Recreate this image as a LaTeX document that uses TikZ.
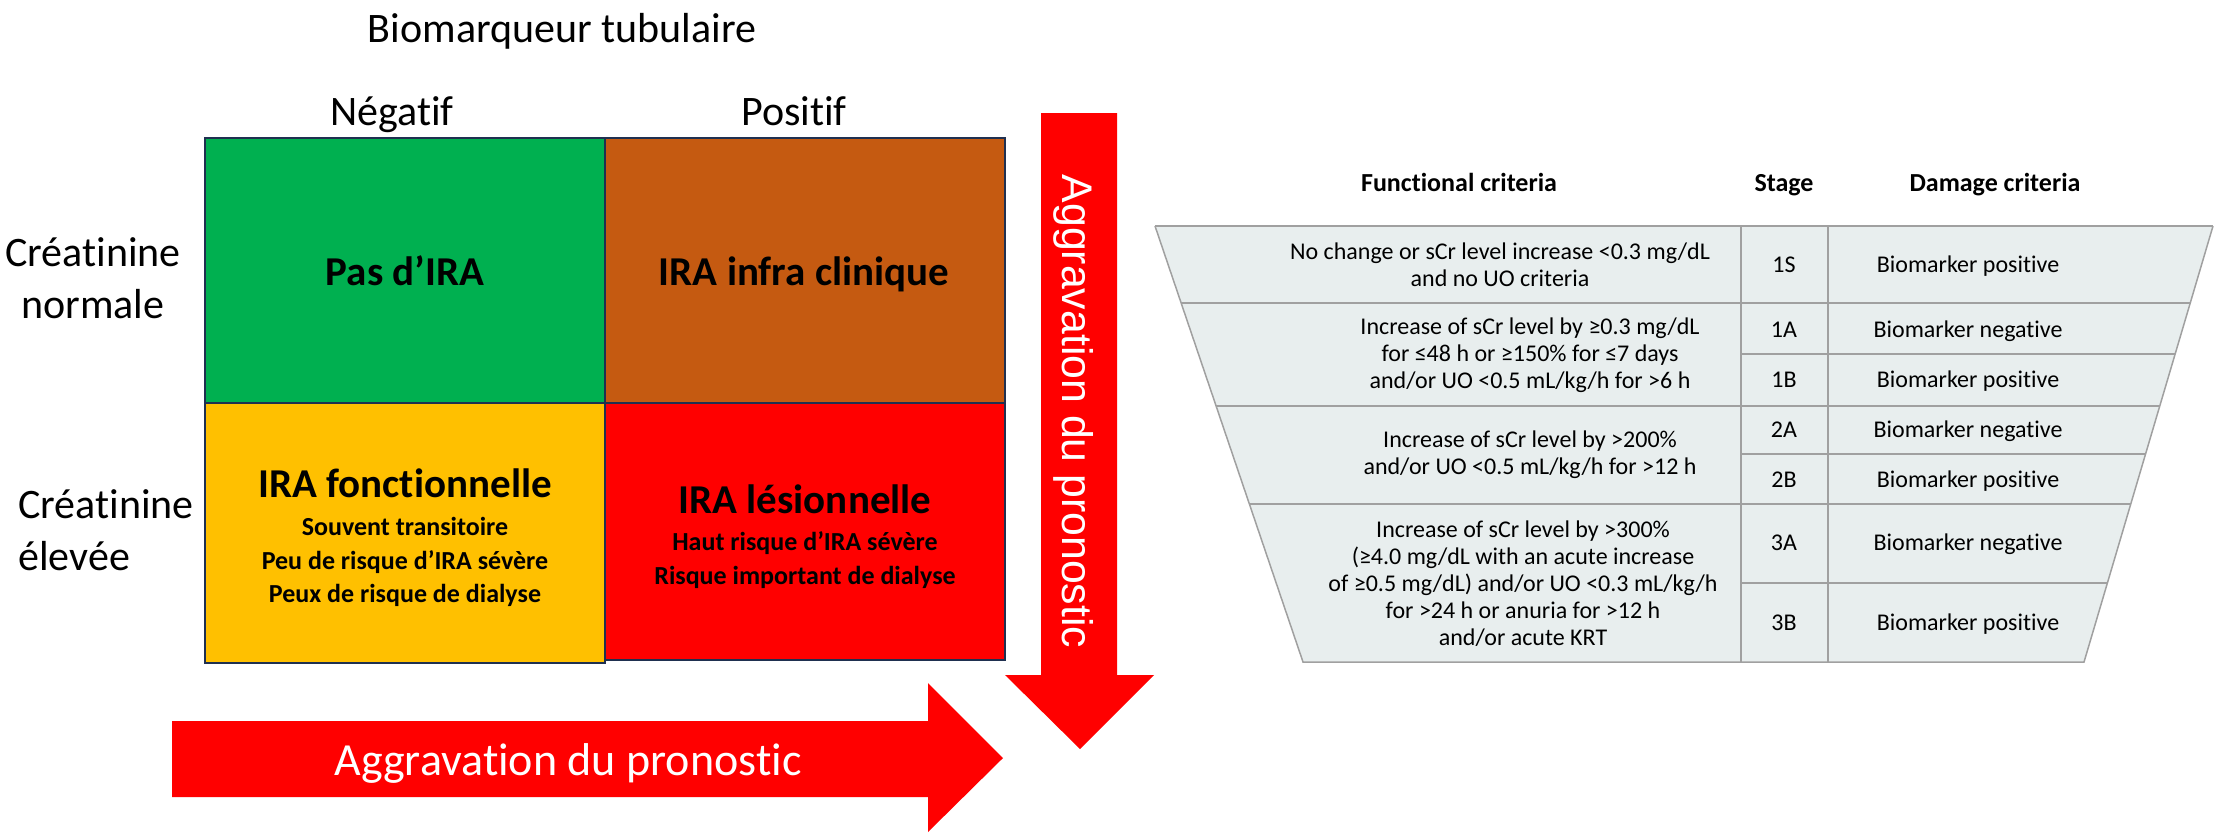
\documentclass[tikz,border=0pt]{standalone}
\usepackage{fontspec}
\setmainfont{Carlito}[Ligatures=NoCommon]
\newfontfamily\arrowfont{Liberation Sans}
\usetikzlibrary{positioning}
\definecolor{nogreen}{HTML}{00B050}
\definecolor{subbrown}{HTML}{C55A11}
\definecolor{foncyellow}{HTML}{FFC000}
\definecolor{lesred}{HTML}{FF0000}
\definecolor{gridnavy}{HTML}{1F3050}
\definecolor{funnelfill}{HTML}{E8EEEE}
\definecolor{funnelline}{HTML}{A0A0A0}

\begin{document}
\begin{tikzpicture}[x=0.5pt,y=-0.5pt]
\tikzstyle{every node}+=[inner sep=0pt]
\tikzstyle{headlabel}=[font=\fontsize{21}{26}\selectfont]
\tikzstyle{cellbox}=[draw=gridnavy, line width=1.25pt]
\tikzstyle{celltitle}=[font=\bfseries\fontsize{20.5}{25}\selectfont]
\tikzstyle{cellnote}=[font=\bfseries\fontsize{13}{16.75}\selectfont, align=center]
\tikzstyle{bigarrow}=[fill=lesred]
\tikzstyle{arrowtext}=[text=white]
\tikzstyle{funnel}=[draw=funnelline, line width=0.75pt]
\tikzstyle{tablehead}=[font=\bfseries\fontsize{13}{15}\selectfont]
\tikzstyle{tabletext}=[font=\fontsize{12}{13.5}\selectfont, align=center]
\useasboundingbox (0,0) rectangle (2216,832);
\node [headlabel, anchor=base] (biomarq) at (562,42) {Biomarqueur tubulaire};
\node [headlabel, anchor=base] (negatif) at (392,125) {Négatif};
\node [headlabel, anchor=base] (positif) at (794,125) {Positif};
\node [headlabel, align=center] (creatnorm) at (93,278) {Créatinine\\normale};
\node [headlabel, align=left, anchor=west] (createleve) at (18,530) {Créatinine\\élevée};
\draw [cellbox, fill=nogreen] (205,138) rectangle (605,403);
\draw [cellbox, fill=subbrown] (605,138) rectangle (1005,403);
\draw [cellbox, fill=foncyellow] (205,403) rectangle (605,663);
\draw [cellbox, fill=lesred] (605,403) rectangle (1005,660);
\node [celltitle, anchor=base] (pasira) at (405,285) {Pas d’IRA};
\node [celltitle, anchor=base] (infraclin) at (804,285) {IRA infra clinique};
\node [celltitle, anchor=base] (fonction) at (405,497) {IRA fonctionnelle};
\node [cellnote] (fonctnote) at (405,562) {Souvent transitoire\\Peu de risque d’IRA sévère\\Peux de risque de dialyse};
\node [celltitle, anchor=base] (lesion) at (805,513) {IRA lésionnelle};
\node [cellnote] (lesionnote) at (805,560) {Haut risque d’IRA sévère\\Risque important de dialyse};
\fill [bigarrow] (172,721) -- (928,721) -- (928,683) -- (1003,758) -- (928,832) -- (928,797) -- (172,797) -- cycle;
\fill [bigarrow] (1041,113) -- (1117,113) -- (1117,675) -- (1154,675) -- (1080,749) -- (1005,675) -- (1041,675) -- cycle;
\node [arrowtext, font=\fontsize{23}{28}\selectfont, anchor=base] (pronoh) at (568,775) {Aggravation du pronostic};
\node [arrowtext, font=\arrowfont\fontsize{21.4}{26}\selectfont, rotate=-90, anchor=base] (pronov) at (1062,411.5) {Aggravation du pronostic};
\node [tablehead, anchor=base] (funchead) at (1459,191) {Functional criteria};
\node [tablehead, anchor=base] (stagehead) at (1784,191) {Stage};
\node [tablehead, anchor=base] (damagehead) at (1995,191) {Damage criteria};
\fill [funnelfill] (1155,226) -- (2213,226) -- (2084,662) -- (1303,662) -- cycle;
\draw [funnel] (1155,226) -- (1303,662) -- (2084,662) -- (2213,226);
\draw [funnel, line width=1pt] (1155,226) -- (2213,226);
\draw [funnel] (1741,226) -- (1741,662);
\draw [funnel] (1828,226) -- (1828,662);
\draw [funnel] (1181.1,303) -- (2190.2,303);
\draw [funnel] (1741,354) -- (2175.1,354);
\draw [funnel] (1216.1,406) -- (2159.7,406);
\draw [funnel] (1741,454) -- (2145.5,454);
\draw [funnel] (1249.4,504) -- (2130.7,504);
\draw [funnel] (1741,583) -- (2107.4,583);
\node [tabletext] (func1s) at (1500,264.5) {No change or sCr level increase <0.3 mg/dL\\and no UO criteria};
\node [tabletext] (func1) at (1530,355) {Increase of sCr level by ≥0.3 mg/dL\\for ≤48 h or ≥150\% for ≤7 days\\and/or UO <0.5 mL/kg/h for >6 h};
\node [tabletext] (func2) at (1530,454.5) {Increase of sCr level by >200\%\\and/or UO <0.5 mL/kg/h for >12 h};
\node [tabletext] (func3) at (1523,584) {Increase of sCr level by >300\%\\(≥4.0 mg/dL with an acute increase\\of ≥0.5 mg/dL) and/or UO <0.3 mL/kg/h\\for >24 h or anuria for >12 h\\and/or acute KRT};
\node [tabletext, anchor=base] (stage1s) at (1784,272) {1S};
\node [tabletext, anchor=base] (stage1a) at (1784,337) {1A};
\node [tabletext, anchor=base] (stage1b) at (1784,387) {1B};
\node [tabletext, anchor=base] (stage2a) at (1784,437) {2A};
\node [tabletext, anchor=base] (stage2b) at (1784,487) {2B};
\node [tabletext, anchor=base] (stage3a) at (1784,550) {3A};
\node [tabletext, anchor=base] (stage3b) at (1784,630) {3B};
\node [tabletext, anchor=base] (dmg1s) at (1968,272) {Biomarker positive};
\node [tabletext, anchor=base] (dmg1a) at (1968,337) {Biomarker negative};
\node [tabletext, anchor=base] (dmg1b) at (1968,387) {Biomarker positive};
\node [tabletext, anchor=base] (dmg2a) at (1968,437) {Biomarker negative};
\node [tabletext, anchor=base] (dmg2b) at (1968,487) {Biomarker positive};
\node [tabletext, anchor=base] (dmg3a) at (1968,550) {Biomarker negative};
\node [tabletext, anchor=base] (dmg3b) at (1968,630) {Biomarker positive};
\end{tikzpicture}
\end{document}
